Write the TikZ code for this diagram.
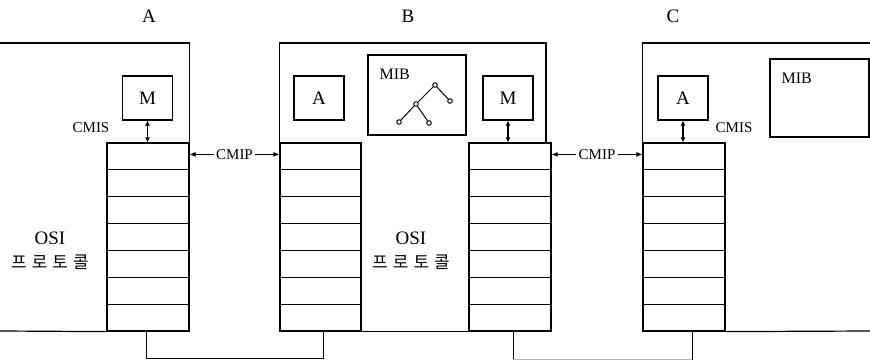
\documentclass[tikz,border=0pt]{standalone}
\usepackage{fontspec}
\setmainfont{Liberation Serif}
\newfontfamily\kofont{Noto Sans CJK KR}
\usetikzlibrary{positioning, arrows.meta, calc}

\begin{document}
\begin{tikzpicture}[
  x=1pt, y=-1pt,
  stack/.style={
    rectangle, draw, line width=1.2pt, inner sep=0pt,
    minimum width=82pt, minimum height=188pt
  },
  unit/.style={
    rectangle, draw, line width=1.2pt,
    minimum width=50pt, minimum height=44pt,
    font=\fontsize{19}{19}\selectfont
  },
  mibbox/.style={rectangle, draw, line width=1.2pt, inner sep=0pt},
  frame/.style={line width=1.2pt},
  row/.style={line width=1pt},
  dbl/.style={{Latex[length=5pt,width=5pt]}-{Latex[length=5pt,width=5pt]}, line width=1.3pt},
  arr/.style={-{Latex[length=6pt,width=5pt]}, line width=1pt},
  proto/.style={font=\fontsize{15}{15}\selectfont, inner sep=2pt},
  site/.style={font=\fontsize{19}{19}\selectfont},
  osi/.style={font=\fontsize{19}{19}\selectfont},
  kor/.style={font=\kofont\fontsize{17}{17}\selectfont},
  mibtxt/.style={font=\fontsize{16}{16}\selectfont, anchor=west, inner sep=2pt},
  leaf/.style={circle, draw, line width=1pt, inner sep=0pt, minimum size=4.5pt},
  link/.style={line width=1pt},
]
\useasboundingbox (0,0) rectangle (870,361);

% Stacks
\node[stack] (sa)  at (148,237)   {};
\node[stack, minimum width=81pt] (sb1) at (320.5,237) {};
\node[stack] (sb2) at (510,237)   {};
\node[stack] (sc)  at (684,237)   {};
\foreach \s in {sa,sb1,sb2,sc}
  \foreach \i in {1,...,6}
    \draw[row] ($(\s.north west)!\i/7!(\s.south west)$)
      -- ($(\s.north east)!\i/7!(\s.south east)$);

% A
\node[site] (labA) at (149,16) {A};
\draw[frame] (0,43) -| (sa.north east);
\draw[frame] (0,331) -- (sa.south west);
\node[unit] (mA) at (147.5,98) {M};
\draw[dbl] (mA.south) -- (mA.south |- sa.north);
\node[proto] (cmisA) at (91,128) {CMIS};
\node[osi] (osiA) at (50,238) {OSI};
\node[kor, below=3pt of osiA] (korA)
  {프\hspace{5pt}로\hspace{5pt}토\hspace{5pt}콜};

% B
\node[site] (labB) at (408,16) {B};
\coordinate (bTR) at (546,43);
\draw[frame] (sb1.north west) |- (bTR) -- (bTR |- sb2.north);
\draw[frame] (sb1.south east) -- (sb2.south west);
\node[unit] (aB) at (319,98) {A};
\node[unit] (mB) at (508,98) {M};
\draw[dbl] (mB.south) -- (mB.south |- sb2.north);
\node[mibbox, minimum width=98pt, minimum height=80pt] (mibB) at (417,95) {};
\node[mibtxt] (mibBt) at ($(mibB.north west)+(10,20)$) {MIB};
\node[leaf] (t1) at (435,85)  {};
\node[leaf] (t2) at (416,104) {};
\node[leaf] (t3) at (450,101) {};
\node[leaf] (t4) at (399,122) {};
\node[leaf] (t5) at (429,123) {};
\draw[line width=1pt] (t1) -- (t2) (t1) -- (t3) (t2) -- (t4) (t2) -- (t5);
\node[osi] (osiB) at (411,238) {OSI};
\node[kor, below=3pt of osiB] (korB)
  {프\hspace{5pt}로\hspace{5pt}토\hspace{5pt}콜};

% C
\node[site] (labC) at (673,16) {C};
\draw[frame] (870,43) -| (sc.north west);
\draw[frame] (sc.south east) -- (870,331);
\node[unit] (aC) at (683,98) {A};
\draw[dbl] (aC.south) -- (aC.south |- sc.north);
\node[proto] (cmisC) at (734,128) {CMIS};
\node[mibbox, minimum width=99pt, minimum height=78pt] (mibC) at (819.5,98) {};
\node[mibtxt] (mibCt) at ($(mibC.north west)+(10,20)$) {MIB};

% CMIP arrows
\node[proto] (cmip1) at ($(sa.north east)!0.5!(sb1.north west)+(0,12)$) {CMIP};
\draw[arr] (cmip1.west) -- (cmip1.west -| sa.east);
\draw[arr] (cmip1.east) -- (cmip1.east -| sb1.west);
\node[proto] (cmip2) at ($(sb2.north east)!0.5!(sc.north west)+(0,12)$) {CMIP};
\draw[arr] (cmip2.west) -- (cmip2.west -| sb2.east);
\draw[arr] (cmip2.east) -- (cmip2.east -| sc.west);

% Links
\draw[link] ([xshift=-2]sa.south) -- ++(0,27) coordinate (busA)
  -| ([xshift=3]sb1.south);
\coordinate (cIn) at ([xshift=8]sc.south);
\draw[link] ([xshift=3]sb2.south) -- ++(0,28) coordinate (busB);
\draw[link, draw=gray!55] (busB) -- (busB -| cIn);
\draw[link] (busB -| cIn) -- (cIn);

\end{tikzpicture}
\end{document}
